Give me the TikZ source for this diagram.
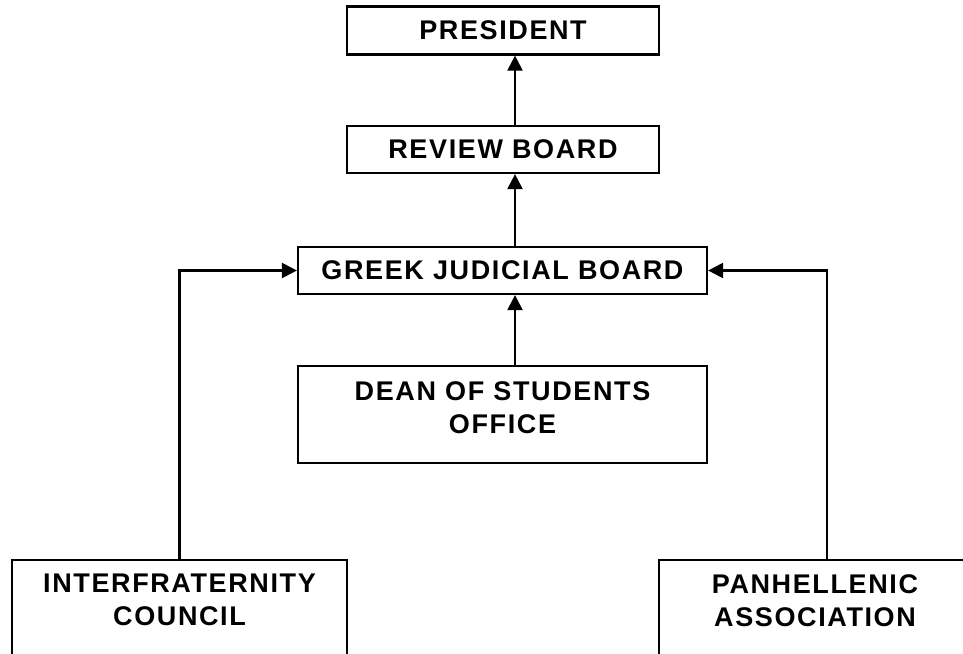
\documentclass[tikz,border=0pt]{standalone}
\usepackage{fontspec}
\setmainfont{Liberation Sans}
\newfontfamily\orgfont[LetterSpace=6]{Liberation Sans}
\usetikzlibrary{arrows.meta}
\begin{document}
\begin{tikzpicture}[x=1pt,y=-1pt,
  box/.style={draw, line width=2.2pt, inner sep=0pt, align=center,
    font=\orgfont\bfseries\fontsize{27}{33}\selectfont},
  lbl/.style={align=center, inner sep=0pt,
    font=\orgfont\bfseries\fontsize{27}{33}\selectfont},
  conn/.style={line width=2.2pt, -{Triangle[width=15pt,length=15pt]}}]
\useasboundingbox (0,0) rectangle (963,653);
\clip (0,0) rectangle (963,653);
\fill[white] (0,0) rectangle (963,653);
\coordinate (ax) at (515,0);
\node[box, minimum width=312pt, minimum height=48pt] (pres) at (503,30.5) {PRESIDENT};
\node[box, minimum width=312pt, minimum height=47pt] (rev) at (503,149.5) {REVIEW BOARD};
\node[box, minimum width=409pt, minimum height=47pt] (gjb) at (502.5,270.5) {GREEK JUDICIAL BOARD};
\node[box, minimum width=409pt, minimum height=97pt,
  label={[lbl, anchor=north, label distance=-17pt]north:DEAN OF STUDENTS\\OFFICE}] (dean) at (502.5,414.5) {};
\node[box, anchor=north, minimum width=335pt, minimum height=140pt,
  label={[lbl, anchor=north, label distance=-15pt]north:INTERFRATERNITY\\COUNCIL}] (ifc) at (179.5,559) {};
\node[box, anchor=north, minimum width=336pt, minimum height=140pt,
  label={[lbl, anchor=north, label distance=-15pt, xshift=-12pt]north:PANHELLENIC\\ASSOCIATION}] (pan) at (827,559) {};
\draw[conn] (rev.north -| ax) -- (pres.south -| ax);
\draw[conn] (gjb.north -| ax) -- (rev.south -| ax);
\draw[conn] (dean.north -| ax) -- (gjb.south -| ax);
\draw[conn] (ifc.north) |- (gjb.west);
\draw[conn] (pan.north) |- (gjb.east);
\end{tikzpicture}
\end{document}
